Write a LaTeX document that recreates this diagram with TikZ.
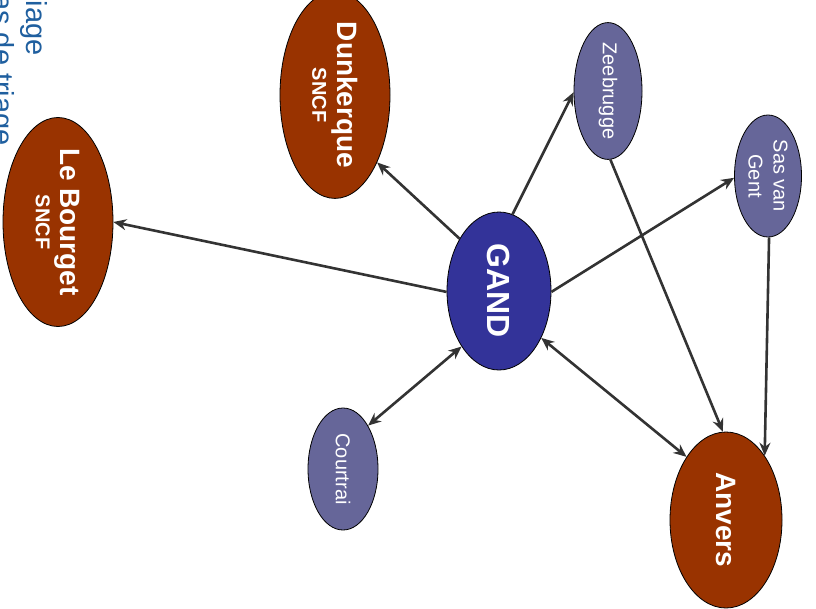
\documentclass[tikz,border=0pt]{standalone}
\usepackage{fontspec}
\setmainfont{Liberation Sans}
\usetikzlibrary{shapes.geometric,arrows.meta}
\definecolor{brownc}{HTML}{993300}
\definecolor{gandc}{HTML}{333399}
\definecolor{smallc}{HTML}{666699}
\definecolor{linec}{HTML}{333333}
\definecolor{bluetxt}{HTML}{1F5F9F}
\begin{document}
\begin{tikzpicture}[x=1pt,y=-1pt,
  city/.style={ellipse, draw=black, line width=0.8pt, inner sep=0pt, rotate=-90, text=white, align=center},
  bigcity/.style={city, fill=brownc, font=\bfseries\fontsize{28}{28}\selectfont},
  hub/.style={city, fill=gandc, font=\bfseries\fontsize{32}{32}\selectfont},
  smallcity/.style={city, fill=smallc, font=\fontsize{20}{25}\selectfont},
  conn/.style={line width=2.6pt, draw=linec, -{Stealth[length=13pt,width=11pt]}},
  conn2/.style={line width=2.6pt, draw=linec, {Stealth[length=13pt,width=11pt]}-{Stealth[length=13pt,width=11pt]}},
  legend/.style={rotate=-90, text=bluetxt, font=\fontsize{29}{30}\selectfont, inner sep=0pt}
]
\path[use as bounding box] (0,0) rectangle (816,608);
\clip (0,0) rectangle (816,608);

\node[legend, anchor=base east] (leg1) at (26,56) {iage};
\node[legend, anchor=base east] (leg2) at (-6,146) {as de triage};

\node[bigcity, minimum width=180pt, minimum height=110pt] (dunk) at (335,95)
  {Dunkerque\\[-3pt]{\fontsize{20}{20}\selectfont SNCF}};
\node[bigcity, minimum width=176pt, minimum height=110pt] (leb) at (58,222)
  {Le Bourget\\[-3pt]{\fontsize{20}{20}\selectfont SNCF}};
\node[hub, minimum width=158pt, minimum height=104pt] (gand) at (499,291) {GAND};
\node[smallcity, minimum width=122pt, minimum height=68pt] (zee) at (608,91) {Zeebrugge};
\node[smallcity, minimum width=122pt, minimum height=67pt] (sas) at (768,176) {Sas van\\Gent};
\node[smallcity, minimum width=122pt, minimum height=70pt] (court) at (343,469) {Courtrai};
\node[bigcity, minimum width=176pt, minimum height=112pt] (anv) at (726,520) {Anvers};

\draw[conn] (gand.217) -- (dunk.32);
\draw[conn] (gand.271) -- (leb.90);
\draw[conn] (gand.170) -- (zee.272);
\draw[conn] (gand.89) -- (sas.273);
\draw[conn2] (gand.-34) -- (court.150);
\draw[conn2] (gand.42) -- (anv.212);
\draw[conn] (zee.2) -- (anv.182);
\draw[conn] (sas.1) -- (anv.149);
\end{tikzpicture}
\end{document}
